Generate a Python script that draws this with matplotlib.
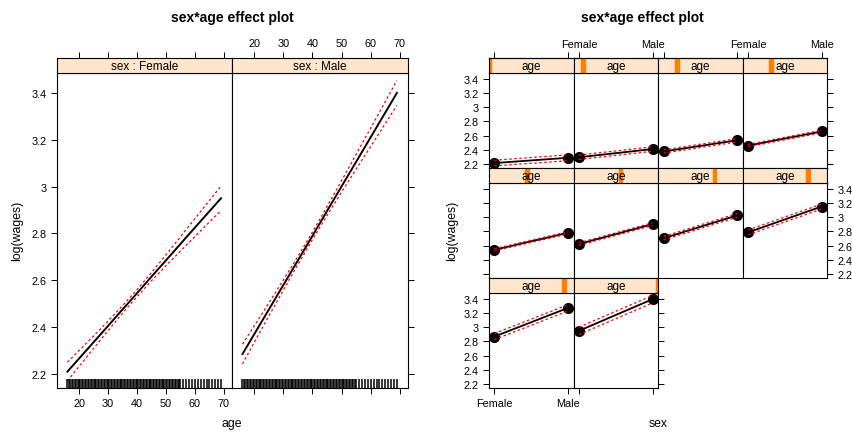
import matplotlib
matplotlib.use("Agg")
import matplotlib.pyplot as plt
from matplotlib.patches import Rectangle

plt.rcParams["font.family"] = ["Liberation Sans", "DejaVu Sans"]

# effect estimates at ten age values
AGE_LEVELS = [16, 21.9, 27.8, 33.7, 39.6, 45.4, 51.3, 57.2, 63.1, 69]
FEMALE_FIT = [2.210, 2.292, 2.374, 2.457, 2.539, 2.621, 2.703, 2.786, 2.868, 2.950]
FEMALE_LO = [2.170, 2.261, 2.351, 2.440, 2.524, 2.603, 2.678, 2.752, 2.825, 2.898]
FEMALE_HI = [2.250, 2.323, 2.397, 2.474, 2.554, 2.639, 2.728, 2.820, 2.911, 3.002]
MALE_FIT = [2.285, 2.409, 2.533, 2.657, 2.781, 2.904, 3.028, 3.152, 3.276, 3.400]
MALE_LO = [2.243, 2.377, 2.509, 2.639, 2.765, 2.885, 3.002, 3.117, 3.232, 3.347]
MALE_HI = [2.327, 2.441, 2.557, 2.675, 2.797, 2.923, 3.054, 3.187, 3.320, 3.453]

SEXES = ["Female", "Male"]
AGE_TICKS = [20, 30, 40, 50, 60, 70]
Y_TICKS = [2.2, 2.4, 2.6, 2.8, 3.0, 3.2, 3.4]
Y_LABELS = ["2.2", "2.4", "2.6", "2.8", "3", "3.2", "3.4"]

# observed ages (rug)
RUG_AGES = [16, 16.5, 17, 17.5, 18, 18.5, 19, 19.5, 20, 20.5, 21, 21.5, 22, 22.5,
            23, 23.5, 24, 24.5, 25, 25.5, 26, 26.5, 27, 27.5, 28, 28.5, 29, 29.5,
            30, 30.5, 31, 31.5, 32, 32.5, 33, 33.5, 34, 34.5, 35, 35.5, 36, 36.5,
            37, 37.5, 38, 38.5, 39, 39.5, 40, 40.5, 41, 41.5, 42, 42.5, 43, 43.5,
            44, 44.5, 45, 45.5, 46, 46.5, 47, 47.5, 48, 48.5, 49, 49.5, 50, 50.5,
            51, 51.5, 52, 52.5, 53, 53.5, 54, 54.5, 55, 56, 57, 58, 59, 60, 61,
            62, 63, 64, 65, 66, 67, 68, 69]

W, H = 853, 435
STRIP_BG = "#ffe5cc"
ORANGE = "#ff7f00"
YLIM = (2.14, 3.485)
TICK_FS = 7.8


def box(x0, y0, x1, y1):
    # pixel box (top-left origin) -> figure fraction rect
    return [x0 / W, 1 - y1 / H, (x1 - x0) / W, (y1 - y0) / H]


def style(ax, left=False, right=False, top=False, bottom=False,
          lleft=False, lright=False, ltop=False, lbottom=False):
    for s in ax.spines.values():
        s.set_linewidth(0.8)
    ax.tick_params(direction="out", length=4.5, width=0.7, pad=3.0,
                   labelsize=TICK_FS, left=left, right=right, top=top, bottom=bottom,
                   labelleft=lleft, labelright=lright, labeltop=ltop,
                   labelbottom=lbottom)


def strip(x0, x1, ytop, ybot, xlim, text):
    s = fig.add_axes(box(x0, ytop, x1, ybot), facecolor=STRIP_BG)
    s.set_xlim(*xlim)
    s.set_ylim(0, 1)
    s.set_yticks([])
    s.text(0.5, 0.45, text, transform=s.transAxes, ha="center", va="center",
           fontsize=8.5, zorder=3)
    return s


fig = plt.figure(figsize=(W / 100, H / 100), dpi=100)

# ---- left: age on x, one panel per sex ----
AGE_XLIM = (12.4, 72.8)
lcols = [(57, 232), (232, 408)]
for j, sex in enumerate(SEXES):
    x0, x1 = lcols[j]
    ax = fig.add_axes(box(x0, 74, x1, 389))
    fit, lo, hi = (FEMALE_FIT, FEMALE_LO, FEMALE_HI) if j == 0 else (MALE_FIT, MALE_LO, MALE_HI)
    ax.plot(AGE_LEVELS, fit, color="black", lw=1.4)
    ax.plot(AGE_LEVELS, lo, color="red", lw=0.9, ls=(0, (2, 2)))
    ax.plot(AGE_LEVELS, hi, color="red", lw=0.9, ls=(0, (2, 2)))
    ax.vlines(RUG_AGES, 0, 0.028, transform=ax.get_xaxis_transform(),
              color="black", lw=1.1)
    ax.set_xlim(*AGE_XLIM)
    ax.set_ylim(*YLIM)
    ax.set_xticks(AGE_TICKS)
    ax.set_yticks(Y_TICKS, Y_LABELS)
    style(ax, left=(j == 0), lleft=(j == 0), right=(j == 1),
          bottom=True, lbottom=(j == 0))
    s = strip(x0, x1, 59.3, 74, AGE_XLIM, "sex : " + sex)
    s.set_xticks(AGE_TICKS)
    style(s, top=True, ltop=(j == 1))

fig.text(232 / W, 1 - 18 / H, "sex*age effect plot", ha="center", va="center",
         fontsize=10, fontweight="bold")
fig.text(232 / W, 1 - 424 / H, "age", ha="center", va="center", fontsize=8.8)
fig.text(17 / W, 1 - 231 / H, "log(wages)", ha="center", va="center",
         rotation=90, fontsize=8.8)

# ---- right: sex on x, one panel per age value ----
SEX_XLIM = (0.928, 2.072)
rcols = [489, 573.7, 658.3, 742.7, 827]
rrows = [(59.3, 74, 169), (169, 184, 279), (279, 294, 389)]
for k in range(len(AGE_LEVELS)):
    r, c = divmod(k, 4)
    x0, x1 = rcols[c], rcols[c + 1]
    st, sb, pb = rrows[r]
    ax = fig.add_axes(box(x0, sb, x1, pb))
    ys = [FEMALE_FIT[k], MALE_FIT[k]]
    ax.plot([1, 2], ys, color="black", lw=1.3, zorder=2)
    ax.plot([1, 2], ys, "o", color="black", ms=7, zorder=3, clip_on=False)
    ax.plot([1, 2], [FEMALE_LO[k], MALE_LO[k]], color="red", lw=0.9,
            ls=(0, (2, 2)), zorder=4)
    ax.plot([1, 2], [FEMALE_HI[k], MALE_HI[k]], color="red", lw=0.9,
            ls=(0, (2, 2)), zorder=4)
    ax.set_xlim(*SEX_XLIM)
    ax.set_ylim(*YLIM)
    ax.set_xticks([1, 2], SEXES)
    ax.set_yticks(Y_TICKS, Y_LABELS)
    last_in_row = (c == 3) or (k == len(AGE_LEVELS) - 1)
    style(ax, left=(c == 0), lleft=(c == 0 and r != 1),
          right=last_in_row, lright=(last_in_row and r == 1),
          bottom=(r == 2), lbottom=(r == 2 and c == 0))
    s = strip(x0, x1, st, sb, (0, 1), "age")
    frac = (AGE_LEVELS[k] - AGE_LEVELS[0]) / (AGE_LEVELS[-1] - AGE_LEVELS[0])
    s.add_patch(Rectangle((frac - 0.022, 0), 0.044, 1, color=ORANGE, zorder=1))
    if r == 0:
        sx = s.secondary_xaxis("top", functions=(lambda v: SEX_XLIM[0] + v * (SEX_XLIM[1] - SEX_XLIM[0]),
                                                 lambda v: (v - SEX_XLIM[0]) / (SEX_XLIM[1] - SEX_XLIM[0])))
        sx.set_xticks([1, 2], SEXES if c % 2 == 1 else ["", ""])
        sx.tick_params(direction="out", length=4.5, width=0.7, pad=2.5,
                       labelsize=TICK_FS)
    s.set_xticks([])
    for sp in s.spines.values():
        sp.set_linewidth(0.8)

fig.text(642 / W, 1 - 18 / H, "sex*age effect plot", ha="center", va="center",
         fontsize=10, fontweight="bold")
fig.text(658 / W, 1 - 424 / H, "sex", ha="center", va="center", fontsize=8.8)
fig.text(452 / W, 1 - 231 / H, "log(wages)", ha="center", va="center",
         rotation=90, fontsize=8.8)

fig.savefig("out.png", dpi=100)
